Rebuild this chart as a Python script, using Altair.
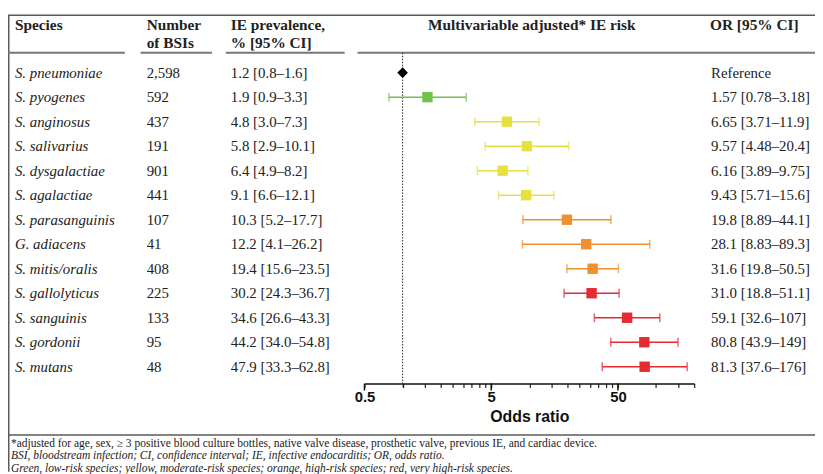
import altair as alt
import pandas as pd

species = ["S. pneumoniae", "S. pyogenes", "S. anginosus", "S. salivarius", "S. dysgalactiae",
           "S. agalactiae", "S. parasanguinis", "G. adiacens", "S. mitis/oralis", "S. gallolyticus",
           "S. sanguinis", "S. gordonii", "S. mutans"]
n_bsi = ["2,598", "592", "437", "191", "901", "441", "107", "41", "408", "225", "133", "95", "48"]
prevalence = ["1.2 [0.8–1.6]", "1.9 [0.9–3.3]", "4.8 [3.0–7.3]", "5.8 [2.9–10.1]", "6.4 [4.9–8.2]",
              "9.1 [6.6–12.1]", "10.3 [5.2–17.7]", "12.2 [4.1–26.2]", "19.4 [15.6–23.5]",
              "30.2 [24.3–36.7]", "34.6 [26.6–43.3]", "44.2 [34.0–54.8]", "47.9 [33.3–62.8]"]
or_est = [1.0, 1.57, 6.65, 9.57, 6.16, 9.43, 19.8, 28.1, 31.6, 31.0, 59.1, 80.8, 81.3]
or_lo = [None, 0.78, 3.71, 4.48, 3.89, 5.71, 8.89, 8.83, 19.8, 18.8, 32.6, 43.9, 37.6]
or_hi = [None, 3.18, 11.9, 20.4, 9.75, 15.6, 44.1, 89.3, 50.5, 51.1, 107, 149, 176]
or_text = ["Reference", "1.57 [0.78–3.18]", "6.65 [3.71–11.9]", "9.57 [4.48–20.4]", "6.16 [3.89–9.75]",
           "9.43 [5.71–15.6]", "19.8 [8.89–44.1]", "28.1 [8.83–89.3]", "31.6 [19.8–50.5]",
           "31.0 [18.8–51.1]", "59.1 [32.6–107]", "80.8 [43.9–149]", "81.3 [37.6–176]"]
risk = ["reference", "low", "moderate", "moderate", "moderate", "moderate", "high", "high", "high",
        "very high", "very high", "very high", "very high"]

risk_levels = ["reference", "low", "moderate", "high", "very high"]
risk_colors = ["#000000", "#6cbd45", "#f0d828", "#f08a24", "#e8202a"]
line_colors = ["#000000", "#72c04e", "#e8e040", "#f0902e", "#e52a32"]

tick_values = [0.5, 1, 1.5, 2, 2.5, 3, 3.5, 4, 4.5, 5, 10, 15, 20, 25, 30, 35, 40, 45, 50, 100, 150, 200]
major_ticks = [0.5, 5, 50]

header_texts = {
    "species": "Species",
    "num1": "Number", "num2": "of BSIs",
    "prev1": "IE prevalence,", "prev2": "% [95% CI]",
    "risk": "Multivariable adjusted* IE risk",
    "or": "OR [95% CI]",
}
footnotes = [
    "*adjusted for age, sex, ≥ 3 positive blood culture bottles, native valve disease, prosthetic valve, previous IE, and cardiac device.",
    "BSI, bloodstream infection; CI, confidence interval; IE, infective endocarditis; OR, odds ratio.",
    "Green, low-risk species; yellow, moderate-risk species; orange, high-risk species; red, very high-risk species.",
]

df = pd.DataFrame({"species": species, "n": n_bsi, "prev": prevalence, "or": or_est,
                   "lo": or_lo, "hi": or_hi, "ortext": or_text, "risk": risk})

SERIF = "Liberation Serif"
SANS = "Liberation Sans"
TXT = "#222222"
LINE = "#5a5a5a"

y_enc = alt.Y("species:N", sort=species, axis=None,
              scale=alt.Scale(type="point", range=[63, 360], padding=0))
x_scale = alt.Scale(type="log", domain=[0.5, 200], range=[360, 693])
color_sq = alt.Color("risk:N", scale=alt.Scale(domain=risk_levels, range=risk_colors), legend=None)
color_ln = alt.Color("risk:N", scale=alt.Scale(domain=risk_levels, range=line_colors), legend=None)

base = alt.Chart(df)

major_test = "datum.value == 0.5 || datum.value == 5 || datum.value == 50"
x_axis = alt.Axis(values=tick_values, labelExpr=f"({major_test}) ? datum.label : ''",
                  format="~g", labelFlush=False, labelOverlap=False, grid=False,
                  domainColor="#111111", domainWidth=1.6, tickColor="#222222", tickWidth=1.2,
                  tickSize=4,
                  labelFont=SANS, labelFontSize=15, labelFontWeight="bold", labelColor="#111111",
                  labelPadding=2, title="Odds ratio", titleFont=SANS, titleFontSize=16,
                  titleFontWeight="bold", titleColor="#111111", titleY=38, titleBaseline="alphabetic")

ref_line = alt.Chart(pd.DataFrame({"a": [0]})).mark_rule(
    color="#222222", strokeWidth=1, strokeDash=[1.5, 1.5]).encode(
    x=alt.X(datum=1, scale=x_scale, axis=x_axis), y=alt.value(43), y2=alt.value(380))

major_tick_marks = alt.Chart(pd.DataFrame({"v": major_ticks})).mark_rule(
    color="#111111", strokeWidth=1.5).encode(
    x=alt.X("v:Q", scale=x_scale), y=alt.value(377), y2=alt.value(384))

ci_rule = base.mark_rule(strokeWidth=1.6).encode(
    x=alt.X("lo:Q", scale=x_scale, axis=x_axis), x2="hi:Q", y=y_enc, color=color_ln
).transform_filter("datum.lo != null")
cap_lo = base.mark_tick(orient="vertical", size=9, thickness=1.5).encode(
    x=alt.X("lo:Q", scale=x_scale), y=y_enc, color=color_ln).transform_filter("datum.lo != null")
cap_hi = base.mark_tick(orient="vertical", size=9, thickness=1.5).encode(
    x=alt.X("hi:Q", scale=x_scale), y=y_enc, color=color_ln).transform_filter("datum.hi != null")
squares = base.mark_square(size=110, opacity=1, filled=True).encode(
    x=alt.X("or:Q", scale=x_scale), y=y_enc, color=color_sq).transform_filter("datum.risk != 'reference'")
diamond = base.mark_point(shape="diamond", size=115, filled=True, opacity=1, color="#000000").encode(
    x=alt.X("or:Q", scale=x_scale), y=y_enc).transform_filter("datum.risk == 'reference'")


def col_text(field, x, italic=False):
    return base.mark_text(align="left", baseline="middle", font=SERIF, fontSize=15, color=TXT,
                          fontStyle="italic" if italic else "normal").encode(
        x=alt.value(x), y=y_enc, text=f"{field}:N")


def label(text, x, y, align="left", size=15.5, weight="bold", style="normal", font=SERIF):
    return alt.Chart(pd.DataFrame({"t": [text]})).mark_text(
        align=align, baseline="middle", font=font, fontSize=size, fontWeight=weight,
        fontStyle=style, color=TXT).encode(x=alt.value(x), y=alt.value(y), text="t:N")


def hline(x1, x2, y, width=1.5, color=LINE):
    return alt.Chart(pd.DataFrame({"a": [0]})).mark_rule(color=color, strokeWidth=width).encode(
        x=alt.value(x1), x2=alt.value(x2), y=alt.value(y))


def vline(x, y1, y2, width=1.5, color=LINE):
    return alt.Chart(pd.DataFrame({"a": [0]})).mark_rule(color=color, strokeWidth=width).encode(
        x=alt.value(x), y=alt.value(y1), y2=alt.value(y2))


layers = [
    hline(0, 815, 5),
    vline(0.75, 5, 466),
    hline(0, 118, 43, 2, "#777777"), hline(134, 206, 43, 2, "#777777"),
    hline(220, 340, 43, 2, "#777777"), hline(353, 815, 43, 2, "#777777"),
    hline(0, 815, 429),
    label(header_texts["species"], 7, 15),
    label(header_texts["num1"], 140, 15), label(header_texts["num2"], 140, 33),
    label(header_texts["prev1"], 225, 15), label(header_texts["prev2"], 225, 33),
    label(header_texts["risk"], 529, 15, align="center"),
    label(header_texts["or"], 709, 15),
    ref_line, major_tick_marks, ci_rule, cap_lo, cap_hi, squares, diamond,
    col_text("species", 7, italic=True), col_text("n", 140), col_text("prev", 225), col_text("ortext", 710),
    label(footnotes[0], 3, 438, size=11.6, weight="normal"),
    label(footnotes[1], 3, 450.5, size=11.6, weight="normal", style="italic"),
    label(footnotes[2], 3, 463, size=11.6, weight="normal", style="italic"),
]

chart = alt.layer(*layers).properties(
    width=815, height=377,
    autosize=alt.AutoSizeParams(type="none"),
    padding={"left": 0, "top": 0, "right": 0, "bottom": 89},
).configure_view(stroke=None)

chart.save("out.html", embed_options={"renderer": "svg", "actions": False})
